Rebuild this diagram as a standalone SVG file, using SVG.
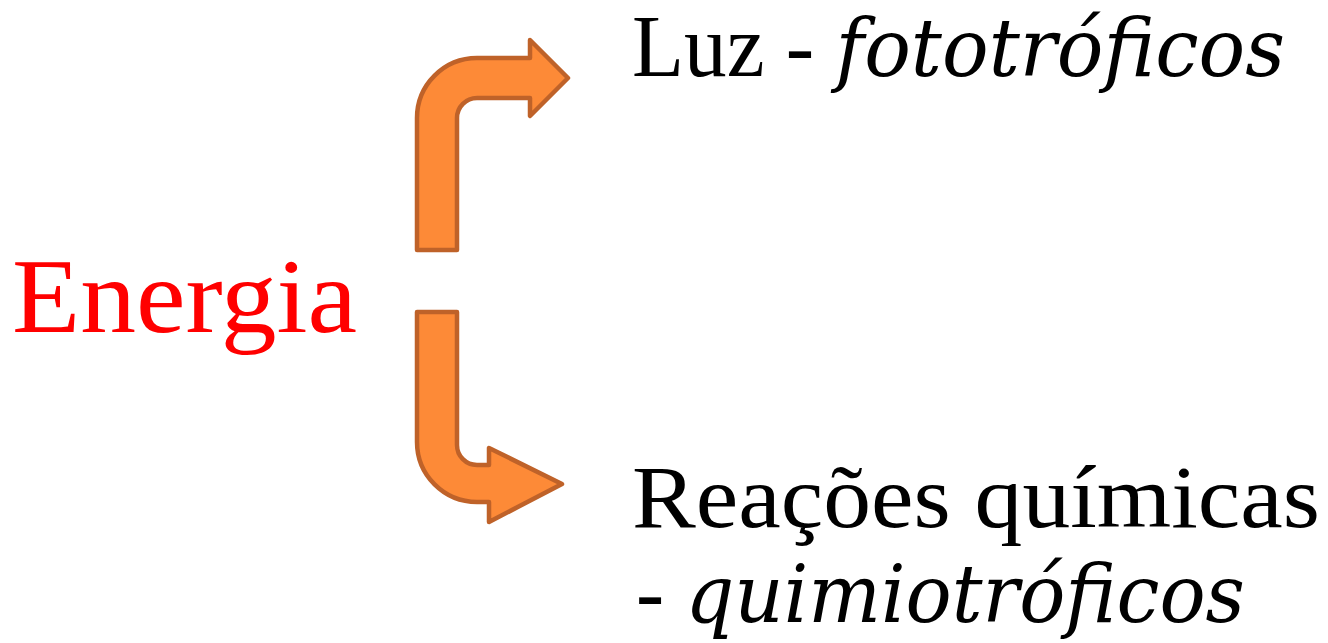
<svg xmlns="http://www.w3.org/2000/svg" width="1328" height="643" viewBox="0 0 1328 643">
<style>
.arrow{fill:#FD8A37;stroke:#BF6229;stroke-width:4.5;stroke-linejoin:round}
.t{font-family:"Liberation Serif","DejaVu Serif",serif;fill:#000}
.i{font-family:"DejaVu Serif","Liberation Serif",serif;font-style:italic}
</style>
<rect width="1328" height="643" fill="#fff"/>
<g id="connectors">
<path class="arrow" d="M417,250 L417,118 A60,60 0 0 1 477,58 L530,58 L530,40 L568,78 L530,116 L530,98 L477,98 A20,20 0 0 0 457,118 L457,250 Z"/>
<path class="arrow" d="M417,312 L417,442 A60,60 0 0 0 477,502 L489,502 L489,522 L562,484 L489,448 L489,465 L477,465 A20,20 0 0 1 457,445 L457,312 Z"/>
</g>
<g id="energia"><text class="t" x="12" y="332" font-size="105" style="fill:#FF0000" textLength="345" lengthAdjust="spacingAndGlyphs">Energia</text></g>
<g id="luz"><text class="t" x="632" y="76" font-size="88" textLength="653" lengthAdjust="spacingAndGlyphs">Luz - <tspan class="i" font-size="80">fototróficos</tspan></text></g>
<g id="reacoes"><text class="t" x="632" y="527" font-size="88" textLength="688" lengthAdjust="spacingAndGlyphs">Reações químicas</text>
<text class="t" x="636" y="622" font-size="88" textLength="609" lengthAdjust="spacingAndGlyphs">- <tspan class="i" font-size="80">quimiotróficos</tspan></text></g>
</svg>
